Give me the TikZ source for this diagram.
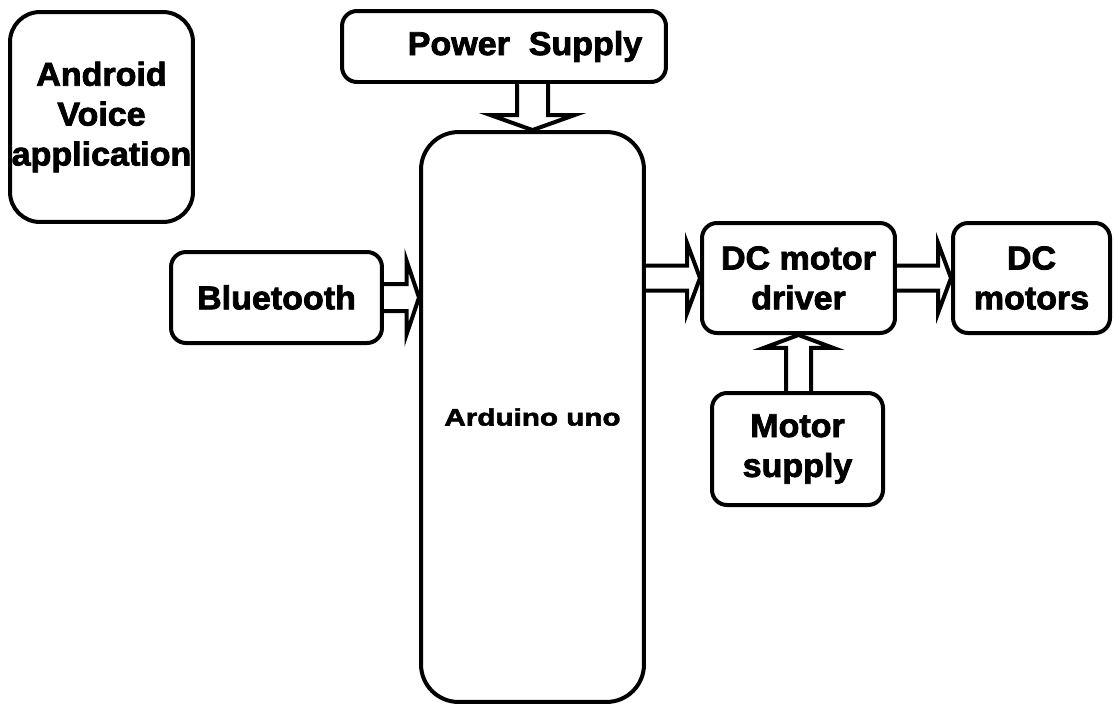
\documentclass[tikz,border=0pt]{standalone}
\usepackage{fontspec}
\usepackage{tikz}
\usetikzlibrary{calc}
\newfontfamily\blockfont[FakeStretch=1.03,FakeBold=2.4]{Liberation Sans}
\newfontfamily\widefont[FakeStretch=1.25,FakeBold=2.4]{Liberation Sans}

\tikzset{
  block/.style={draw,line width=0.08cm,rounded corners=0.3cm,align=center,inner sep=0pt,
    font=\blockfont\bfseries\fontsize{18.8}{22.7}\selectfont},
  ba gap/.store in=\bagap, ba head/.store in=\bahead, ba len/.store in=\balen,
  ba gap=0.25cm, ba head=0.7cm, ba len=0.26cm,
  blockarrow/.style={draw,line width=0.08cm,line join=miter,
    to path={coordinate (ba-s) at (\tikztostart) coordinate (ba-t) at (\tikztotarget)
      coordinate (ba-b) at ($(ba-t)!\balen!(ba-s)$)
      ($(ba-s)!\bagap!90:(ba-t)$) -- ($(ba-b)!\bagap!-90:(ba-s)$)
      -- ($(ba-b)!\bahead!-90:(ba-s)$) -- (ba-t)
      -- ($(ba-b)!\bahead!90:(ba-s)$) -- ($(ba-b)!\bagap!90:(ba-s)$)
      -- ($(ba-s)!\bagap!-90:(ba-t)$)}}
}

\begin{document}
\begin{tikzpicture}[x=0.02cm,y=-0.02cm]
\fill[white] (0,0) rectangle (1114,704);
% Blocks
\node[block,rounded corners=0.6cm,minimum width=3.66cm,minimum height=4.2cm] (app) at (101.5,117) {Android\\Voice\\application};
\node[block,minimum width=6.48cm,minimum height=1.42cm] (ps) at (504,46.5) {\hspace*{0.84cm}Power~~Supply};
\node[block,rounded corners=0.75cm,minimum width=4.46cm,minimum height=11.4cm,
  font=\widefont\bfseries\fontsize{13.5}{16}\selectfont] (ard) at (532.5,417) {Arduino uno};
\node[block,minimum width=4.22cm,minimum height=1.82cm] (bt) at (276.5,297.5) {Bluetooth};
\node[block,minimum width=3.86cm,minimum height=2.2cm] (drv) at (798.5,278) {DC motor\\driver};
\node[block,minimum width=3.14cm,minimum height=2.2cm] (mot) at (1031.5,278) {DC\\motors};
\node[block,minimum width=3.42cm,minimum height=2.24cm] (ms) at (797.5,449) {Motor\\supply};
% Block arrows
\draw[blockarrow,ba gap=0.31cm,ba head=0.84cm,ba len=0.3cm] (ard.north |- ps.south) to (ard.north);
\draw[blockarrow,ba gap=0.27cm,ba head=0.74cm,ba len=0.25cm] (bt.east) to (bt.east -| ard.west);
\draw[blockarrow] (drv.west -| ard.east) to (drv.west);
\draw[blockarrow] (drv.east) to (mot.west);
\draw[blockarrow] (drv.south |- ms.north) to (drv.south);
\end{tikzpicture}
\end{document}
